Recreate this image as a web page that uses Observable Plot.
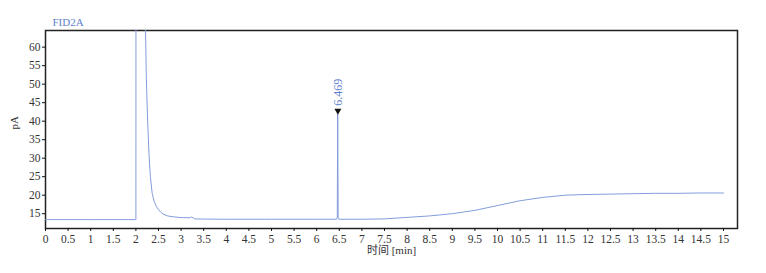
<!DOCTYPE html>
<html>
<head>
<meta charset="utf-8">
<script src="https://cdn.jsdelivr.net/npm/d3@7"></script>
<script src="https://cdn.jsdelivr.net/npm/@observablehq/plot@0.6"></script>
<style>
  html, body { margin: 0; padding: 0; background: #fff; }
  #chart svg { display: block; }
</style>
</head>
<body>
<div id="chart"></div>
<script>
// Chromatogram signal (time in min, signal in pA)
const times  = [0, 1.0, 1.99, 2.0, 2.005, 2.19, 2.2, 2.23, 2.26, 2.29, 2.32, 2.36, 2.4, 2.45, 2.5, 2.55, 2.6, 2.7, 2.8, 3.0, 3.2, 3.23, 3.27, 3.3, 3.5, 4.0, 5.0, 6.0, 6.44, 6.455, 6.465, 6.475, 6.49, 7.0, 7.5, 8.0, 8.5, 9.0, 9.5, 10.0, 10.5, 11.0, 11.5, 12.0, 12.5, 13.0, 13.5, 14.0, 14.5, 15.0];
const signal = [13.4, 13.4, 13.4, 13.4, 200, 200, 75, 52, 40, 31, 25, 20.5, 18.5, 17, 16.1, 15.4, 14.9, 14.4, 14.2, 13.95, 13.9, 14.15, 13.85, 13.6, 13.55, 13.5, 13.5, 13.5, 13.5, 14, 42, 14, 13.5, 13.5, 13.6, 14.0, 14.4, 15.0, 15.9, 17.2, 18.5, 19.4, 20.0, 20.2, 20.3, 20.4, 20.5, 20.5, 20.6, 20.6];

// Peak annotation
const peakTimes   = [6.469];
const peakHeights = [42];
const peakLabels  = ["6.469"];

// Axis ticks and labels
const xTicks = d3.range(0, 15.01, 0.5);
const yTicks = [15, 20, 25, 30, 35, 40, 45, 50, 55, 60];
const titleText = "FID2A";
const xLabel = "时间 [min]";
const yLabel = "pA";

const series = times.map((t, i) => ({t, v: signal[i]}));
const peaks = peakTimes.map((t, i) => ({t, v: peakHeights[i], label: peakLabels[i]}));

const lineColor = "#839ddb";
const textBlue = "#5f7fd0";
const fmt = d => String(+(+d).toFixed(1));

const chart = Plot.plot({
  width: 766,
  height: 273,
  marginLeft: 45,
  marginRight: 29,
  marginTop: 30,
  marginBottom: 45,
  style: {fontFamily: "'Liberation Serif', 'Noto Sans CJK SC', serif", fontSize: "11px", color: "#333", background: "#fff"},
  x: {domain: [0, 15.31], label: null},
  y: {domain: [11, 64.5], label: null},
  marks: [
    Plot.frame({stroke: "#222", strokeWidth: 1.5}),
    Plot.line(series, {x: "t", y: "v", stroke: lineColor, strokeWidth: 1, clip: true}),
    Plot.dot(peaks, {x: "t", y: "v", symbol: "triangle", rotate: 180, r: 2.6, fill: "#111", stroke: null, dy: -3}),
    Plot.text(peaks, {x: "t", y: "v", text: "label", rotate: -90, textAnchor: "start", dy: -8, fill: textBlue, fontSize: 12}),
    Plot.text([titleText], {frameAnchor: "top-left", dx: 7, dy: -12, fill: textBlue, fontSize: 11}),
    Plot.axisX({ticks: xTicks, tickFormat: fmt, tickSize: 3, tickPadding: 3, label: null, stroke: "#111", fontSize: 11.5}),
    Plot.axisY({ticks: yTicks, tickFormat: fmt, tickSize: 3, tickPadding: 2, label: null, stroke: "#111", fontSize: 11.5}),
    Plot.text([xLabel], {frameAnchor: "bottom", dy: 25, fill: "#333", fontSize: 11}),
    Plot.text([yLabel], {frameAnchor: "left", dx: -31, rotate: -90, fill: "#333", fontSize: 11})
  ]
});
document.getElementById("chart").appendChild(chart);
</script>
</body>
</html>
